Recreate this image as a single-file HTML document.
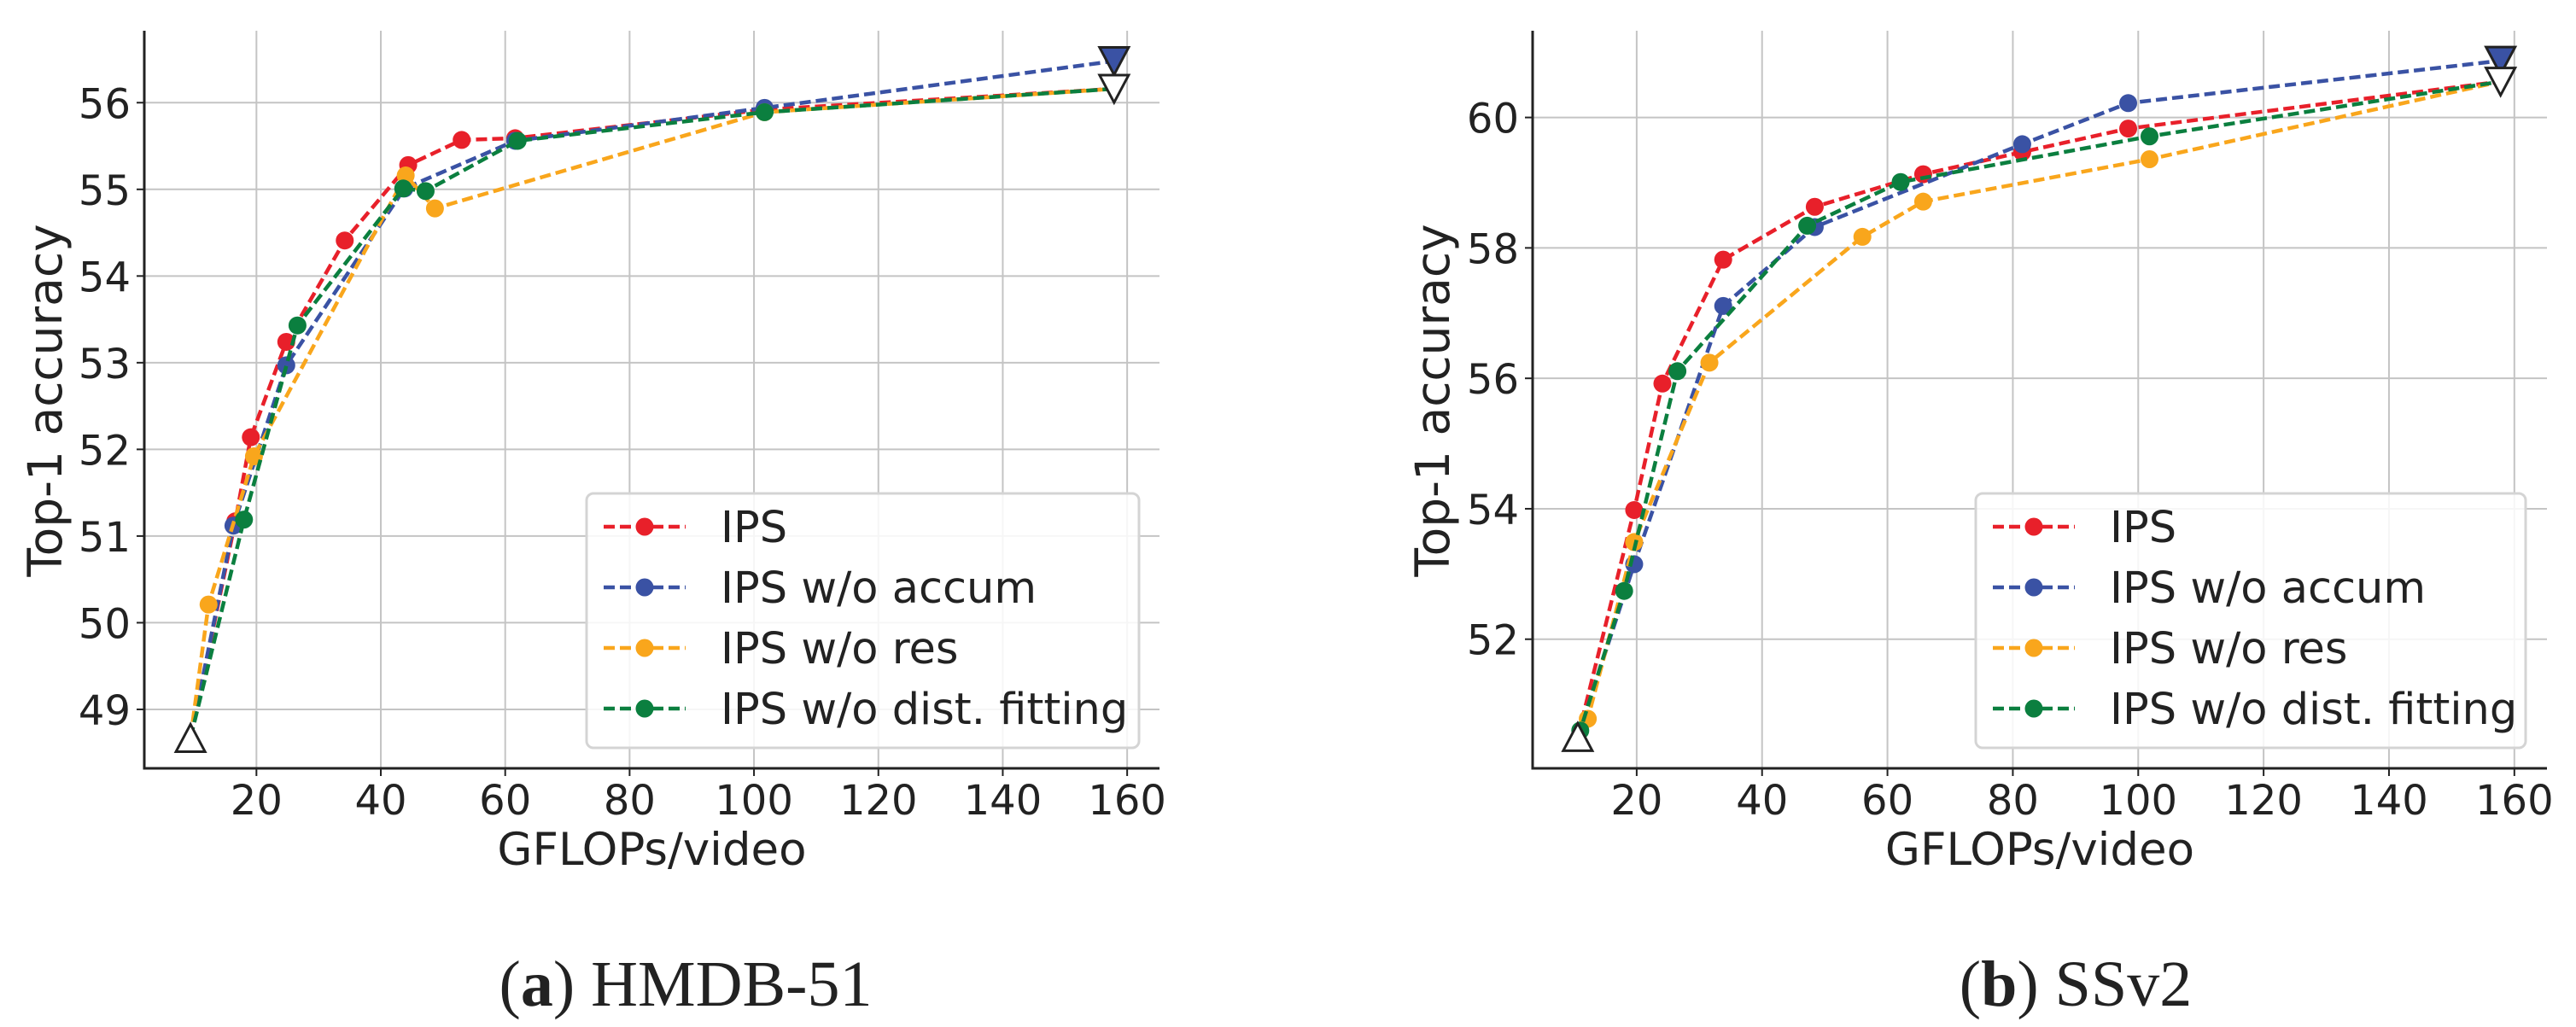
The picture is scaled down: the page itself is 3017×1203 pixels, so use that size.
<!DOCTYPE html>
<html><head><meta charset="utf-8">
<style>
html,body{margin:0;padding:0;background:#fff;}
svg{display:block;}
text{font-family:"DejaVu Sans","Liberation Sans",sans-serif;fill:#222;}
.cap{font-family:"Liberation Serif",serif;font-size:76px;fill:#222;}
</style></head>
<body>
<svg id="fig" width="3017" height="1203" viewBox="0 0 3017 1203" xmlns="http://www.w3.org/2000/svg">
<text class="cap" x="803" y="1178" text-anchor="middle">(<tspan font-weight="bold">a</tspan>) HMDB-51</text>
<text class="cap" x="2431" y="1178" text-anchor="middle">(<tspan font-weight="bold">b</tspan>) SSv2</text>
</svg>
<script>
const seriesNames = ["IPS", "IPS w/o accum", "IPS w/o res", "IPS w/o dist. fitting"];
const seriesColors = ["#e8202a", "#3a52a4", "#f9a61c", "#0b7f3f"];
const xTicks = [20, 40, 60, 80, 100, 120, 140, 160];
// Chart A: HMDB-51
const aStart = [9.4, 48.67];
const aEndAccum = [157.9, 56.48];
const aEndOther = [157.9, 56.16];
const aIPS_x = [16.6, 19.1, 24.8, 34.2, 44.4, 53.0, 61.6, 101.7];
const aIPS_y = [51.17, 52.14, 53.24, 54.41, 55.28, 55.57, 55.59, 55.92];
const aAcc_x = [16.3, 24.8, 43.8, 61.6, 101.7];
const aAcc_y = [51.12, 52.97, 55.01, 55.56, 55.94];
const aRes_x = [12.3, 19.6, 44.0, 48.7, 101.7];
const aRes_y = [50.21, 51.92, 55.16, 54.78, 55.89];
const aDist_x = [18.0, 26.6, 43.6, 47.2, 62.0, 101.7];
const aDist_y = [51.19, 53.43, 55.01, 54.98, 55.56, 55.89];
const aYTicks = [49, 50, 51, 52, 53, 54, 55, 56];
// Chart B: SSv2
const bStart = [10.6, 50.5];
const bEndAccum = [157.8, 60.87];
const bEndOther = [157.8, 60.55];
const bIPS_x = [19.6, 24.1, 33.8, 48.4, 65.7, 81.5, 98.4];
const bIPS_y = [53.98, 55.92, 57.82, 58.63, 59.13, 59.47, 59.83];
const bAcc_x = [19.6, 33.8, 48.4, 81.5, 98.4];
const bAcc_y = [53.15, 57.11, 58.32, 59.59, 60.22];
const bRes_x = [12.2, 19.6, 31.6, 56.0, 65.7, 101.8];
const bRes_y = [50.78, 53.49, 56.24, 58.17, 58.71, 59.36];
const bDist_x = [11.0, 18.0, 26.5, 47.2, 62.1, 101.8];
const bDist_y = [50.6, 52.74, 56.11, 58.34, 59.01, 59.71];
const bYTicks = [52, 54, 56, 58, 60];

const NS = "http://www.w3.org/2000/svg";
const svg = document.getElementById("fig");
function mk(tag, attrs, parent) {
  const e = document.createElementNS(NS, tag);
  for (const k in attrs) e.setAttribute(k, attrs[k]);
  (parent || svg).appendChild(e);
  return e;
}

function drawChart(cfg) {
  const g = mk("g", {});
  
  
  const L = cfg.left, R = cfg.right, T = cfg.top, B = cfg.bottom;
  const sx = v => L + (v - cfg.xmin) / (cfg.xmax - cfg.xmin) * (R - L);
  const sy = v => B - (v - cfg.ymin) / (cfg.ymax - cfg.ymin) * (B - T);
  xTicks.forEach(t => {
    const ln = mk("line", {x1: sx(t), x2: sx(t), y1: T, y2: B, stroke: "#c4c4c4", "stroke-width": 2}, g);
    
    
    const tk = mk("line", {x1: sx(t), x2: sx(t), y1: B, y2: B + 9, stroke: "#222", "stroke-width": 2}, g);
    
    
    const tx = mk("text", {x: sx(t), y: 954, "font-size": 48, "text-anchor": "middle"}, g);
    tx.textContent = t;
    
    
  });
  cfg.yticks.forEach(t => {
    const ln = mk("line", {x1: L, x2: R, y1: sy(t), y2: sy(t), stroke: "#c4c4c4", "stroke-width": 2}, g);
    
    
    const tk = mk("line", {x1: L - 9, x2: L, y1: sy(t), y2: sy(t), stroke: "#222", "stroke-width": 2}, g);
    
    
    const tx = mk("text", {x: L - 16, y: sy(t) + 18, "font-size": 48, "text-anchor": "end"}, g);
    tx.textContent = t;
    
    
  });
  const sp = mk("path", {d: `M${L},${T} L${L},${B} L${R},${B}`, fill: "none", stroke: "#222", "stroke-width": 3}, g);
  
  
  const xl = mk("text", {x: (L + R) / 2, y: 1013, "font-size": 53, "text-anchor": "middle"}, g);
  xl.textContent = "GFLOPs/video";
  
  
  const yl = mk("text", {x: 0, y: 0, "font-size": 55, "text-anchor": "middle", transform: `translate(${cfg.ylabX},469) rotate(-90)`}, g);
  yl.textContent = "Top-1 accuracy";
  
  
  cfg.series.forEach((s, i) => {
    const xs = [cfg.start[0]].concat(s[0], [i === 1 ? cfg.endAcc[0] : cfg.endOther[0]]);
    const ys = [cfg.start[1]].concat(s[1], [i === 1 ? cfg.endAcc[1] : cfg.endOther[1]]);
    const pts = xs.map((x, k) => sx(x) + "," + sy(ys[k])).join(" ");
    const pl = mk("polyline", {points: pts, fill: "none", stroke: seriesColors[i], "stroke-width": 4.5, "stroke-dasharray": "13,6"}, g);
    
    
    s[0].forEach((x, k) => {
      const c = mk("circle", {cx: sx(x), cy: sy(s[1][k]), r: 10.5, fill: seriesColors[i]}, g);
      
      
    });
  });
  const tri = (x, y, up, fill, name) => {
    const cx = sx(x), cy = sy(y), w = 17, h = 16;
    const d = up ? `M${cx},${cy - h} L${cx + w},${cy + h} L${cx - w},${cy + h} Z` : `M${cx},${cy + h} L${cx + w},${cy - h} L${cx - w},${cy - h} Z`;
    const p = mk("path", {d: d, fill: fill, stroke: "#222", "stroke-width": 3}, g);
    
    
  };
  tri(cfg.start[0], cfg.start[1], true, "#fff", "baseline-marker");
  tri(cfg.endAcc[0], cfg.endAcc[1], false, seriesColors[1], "full-model-accum-marker");
  tri(cfg.endOther[0], cfg.endOther[1], false, "#fff", "full-model-marker");
  const lg = mk("g", {}, g);
  
  
  mk("rect", {x: cfg.legX, y: 578, width: cfg.legW, height: 298, rx: 8, fill: "rgba(255,255,255,0.85)", stroke: "#d4d4d4", "stroke-width": 3}, lg);
  seriesNames.forEach((n, i) => {
    const y = 617 + i * 71;
    const x0 = cfg.legX + 20;
    const e = mk("g", {}, lg);
    
    
    mk("line", {x1: x0, x2: x0 + 96, y1: y, y2: y, stroke: seriesColors[i], "stroke-width": 4.5, "stroke-dasharray": "13,6"}, e);
    mk("circle", {cx: x0 + 48, cy: y, r: 10.5, fill: seriesColors[i]}, e);
    const t = mk("text", {x: x0 + 137, y: y + 18, "font-size": 51}, e);
    t.textContent = n;
  });
}

drawChart({name: "chart-hmdb51", left: 169, right: 1358, top: 36, bottom: 900,
  xmin: 1.97, xmax: 165.2, ymin: 48.32, ymax: 56.83, yticks: aYTicks, ylabX: 72,
  start: aStart, endAcc: aEndAccum, endOther: aEndOther, legX: 687, legW: 647,
  series: [[aIPS_x, aIPS_y], [aAcc_x, aAcc_y], [aRes_x, aRes_y], [aDist_x, aDist_y]]});
drawChart({name: "chart-ssv2", left: 1795, right: 2983, top: 36, bottom: 900,
  xmin: 3.4, xmax: 165.2, ymin: 50.02, ymax: 61.33, yticks: bYTicks, ylabX: 1697,
  start: bStart, endAcc: bEndAccum, endOther: bEndOther, legX: 2314, legW: 644,
  series: [[bIPS_x, bIPS_y], [bAcc_x, bAcc_y], [bRes_x, bRes_y], [bDist_x, bDist_y]]});
</script>
</body></html>
